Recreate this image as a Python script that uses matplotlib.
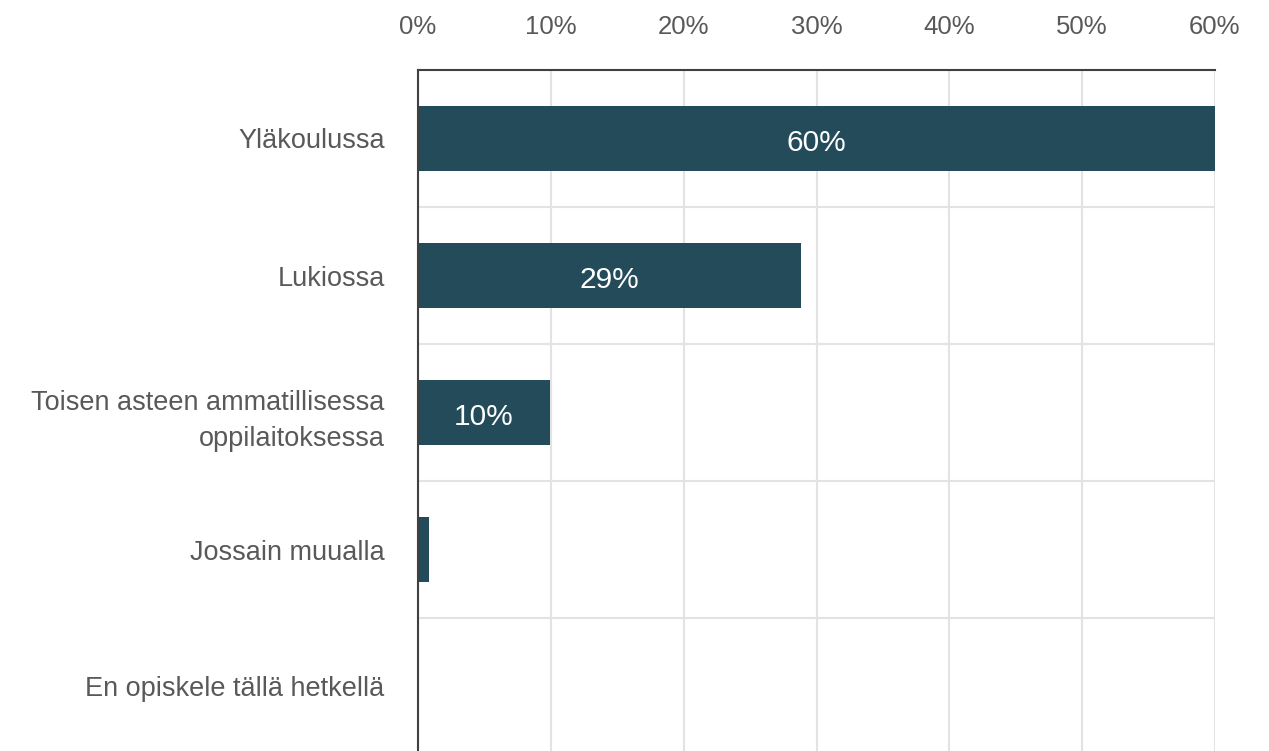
import matplotlib
matplotlib.use("Agg")
import matplotlib.pyplot as plt
from matplotlib.ticker import FixedLocator
from matplotlib.transforms import ScaledTranslation

categories = ["Yläkoulussa", "Lukiossa", "Toisen asteen ammatillisessa\noppilaitoksessa",
              "Jossain muualla", "En opiskele tällä hetkellä"]
values = [60.0, 28.8, 9.9, 0.8, 0.0]
label_min = 5  # only label bars large enough
xticks = [0, 10, 20, 30, 40, 50, 60]

plt.rcParams['font.family'] = ['Liberation Sans', 'DejaVu Sans']

fig = plt.figure(figsize=(12.69, 7.51), dpi=100)
ax = fig.add_axes([418/1269, (751-755)/751, (1215-418)/1269, (755-70)/751])

y = list(range(len(categories)))
bars = ax.barh(y, values, height=0.48, color="#234b5a", zorder=3)
for yi, v in zip(y, values):
    if v >= label_min:
        ax.text(v/2, yi + 0.03, f"{round(v)}%", ha="center", va="center", color="white",
                fontsize=21.5, zorder=4)

ax.set_xlim(0, 60)
ax.set_ylim(4.5, -0.5)
ax.set_yticks(y)
ax.set_yticklabels(categories, fontsize=19.5, color="#595959", linespacing=1.55)
shift = ScaledTranslation(0, -3/100, fig.dpi_scale_trans)
for lbl in ax.get_yticklabels():
    lbl.set_transform(lbl.get_transform() + shift)
ax.set_xticks(xticks)
ax.set_xticklabels([f"{t}%" for t in xticks], fontsize=18.5, color="#595959")
ax.xaxis.set_ticks_position("top")
ax.tick_params(axis="x", length=0, pad=22)
ax.tick_params(axis="y", length=0, pad=24)
ax.yaxis.set_minor_locator(FixedLocator([0.5, 1.5, 2.5, 3.5]))
ax.tick_params(axis="y", which="minor", length=0)
ax.grid(axis="x", color="#e3e3e3", linewidth=1.5, zorder=0)
ax.grid(axis="y", which="minor", color="#e3e3e3", linewidth=1.5, zorder=0)
ax.set_axisbelow(True)
for s in ["right", "bottom"]:
    ax.spines[s].set_visible(False)
for s in ["top", "left"]:
    ax.spines[s].set_color("#404040")
    ax.spines[s].set_linewidth(1.5)
    ax.spines[s].set_zorder(5)

fig.savefig("out.png", dpi=100)
